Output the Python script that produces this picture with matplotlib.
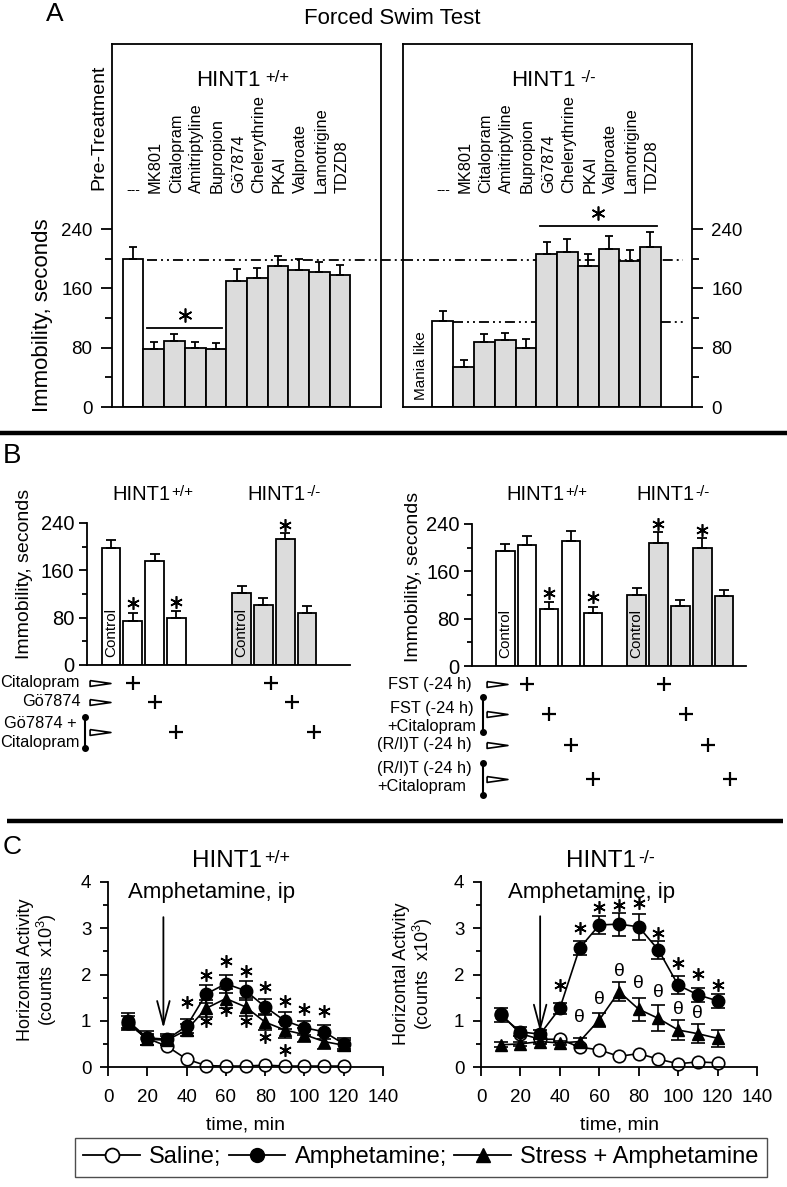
import numpy as np
import matplotlib
matplotlib.use('Agg')
import matplotlib.pyplot as plt
import matplotlib.transforms as mtransforms
from matplotlib.lines import Line2D

plt.rcParams['font.family'] = ['Liberation Sans', 'DejaVu Sans']
plt.rcParams['mathtext.default'] = 'regular'
plt.rcParams['axes.linewidth'] = 1.3
plt.rcParams['lines.scale_dashes'] = False

# ---- A: forced swim test
drugs = ['---', 'MK801', 'Citalopram', 'Amitriptyline', 'Bupropion', 'Gö7874',
         'Chelerythrine', 'PKAI', 'Valproate', 'Lamotrigine', 'TDZD8']
a_wt = [200, 78, 89, 79, 78, 170, 174, 190, 185, 182, 178]
a_wt_err = [16, 10, 9, 8, 8, 16, 14, 13, 15, 14, 14]
a_ko = [116, 54, 87, 90, 80, 206, 209, 190, 213, 197, 216]
a_ko_err = [13, 9, 11, 10, 12, 16, 17, 16, 18, 15, 20]
a_wt_sig = (1, 4, 106)    # first bar, last bar, height of the * line
a_ko_sig = (5, 10, 244)

# ---- B: left, drug combinations
b1_wt = [198, 75, 175, 79]
b1_wt_err = [14, 13, 12, 12]
b1_ko = [121, 102, 213, 88]
b1_ko_err = [13, 12, 10, 12]
b1_wt_star = [1, 3]
b1_ko_star = [2]
b1_rows = ['Citalopram', 'Gö7874', 'Gö7874 +\nCitalopram']

# ---- B: right, prior stress
b2_wt = [195, 204, 97, 211, 89]
b2_wt_err = [12, 16, 11, 18, 11]
b2_ko = [120, 208, 101, 199, 118]
b2_ko_err = [11, 19, 11, 18, 11]
b2_wt_star = [2, 4]
b2_ko_star = [1, 3]
b2_rows = ['FST (-24 h)', 'FST (-24 h)\n+Citalopram', '(R/I)T (-24 h)',
           '(R/I)T (-24 h)\n+Citalopram']

# ---- C: horizontal activity (counts x10^3)
t_min = [10, 20, 30, 40, 50, 60, 70, 80, 90, 100, 110, 120]
wt_sal = [0.95, 0.62, 0.45, 0.17, 0.03, 0.02, 0.02, 0.04, 0.02, 0.02, 0.02, 0.02]
wt_amp = [1.0, 0.63, 0.6, 0.88, 1.58, 1.8, 1.65, 1.3, 1.0, 0.85, 0.76, 0.5]
wt_amp_err = [0.16, 0.15, 0.12, 0.15, 0.2, 0.2, 0.2, 0.18, 0.18, 0.15, 0.15, 0.12]
wt_str = [0.95, 0.6, 0.58, 0.8, 1.27, 1.48, 1.3, 0.97, 0.8, 0.7, 0.55, 0.47]
wt_str_err = [0.15, 0.12, 0.1, 0.12, 0.18, 0.2, 0.2, 0.18, 0.18, 0.15, 0.15, 0.12]
wt_star_amp_t = [40, 50, 60, 70, 80, 90, 100, 110]
wt_star_amp_y = [1.41, 2.0, 2.3, 2.07, 1.72, 1.43, 1.25, 1.21]
wt_star_str_t = [50, 60, 70, 80, 90]
wt_star_str_y = [1.0, 1.23, 1.0, 0.64, 0.37]

ko_sal = [1.15, 0.72, 0.6, 0.6, 0.43, 0.37, 0.23, 0.29, 0.17, 0.07, 0.11, 0.09]
ko_amp = [1.12, 0.76, 0.71, 1.27, 2.57, 3.07, 3.09, 3.03, 2.53, 1.77, 1.56, 1.43]
ko_amp_err = [0.15, 0.1, 0.1, 0.12, 0.15, 0.2, 0.25, 0.28, 0.2, 0.2, 0.15, 0.15]
ko_str = [0.48, 0.5, 0.55, 0.52, 0.55, 1.02, 1.63, 1.25, 1.05, 0.8, 0.72, 0.62]
ko_str_err = [0.05, 0.05, 0.05, 0.05, 0.08, 0.15, 0.2, 0.25, 0.28, 0.22, 0.2, 0.18]
ko_star_amp_t = [40, 50, 60, 70, 80, 90, 100, 110, 120]
ko_star_amp_y = [1.77, 3.0, 3.46, 3.51, 3.55, 2.9, 2.24, 2.02, 1.77]
ko_theta_t = [50, 60, 70, 80, 90, 100, 110]
ko_theta_y = [1.06, 1.47, 2.07, 1.81, 1.61, 1.25, 1.15]

W, H = 787, 1187
fig = plt.figure(figsize=(W / 100, H / 100), dpi=100)


def rect(x0, y0, x1, y1):
    return [x0 / W, 1 - y1 / H, (x1 - x0) / W, (y1 - y0) / H]


# overlay in pixel coordinates for labels, rules and the treatment table
ov = fig.add_axes([0, 0, 1, 1])
ov.set_xlim(0, W)
ov.set_ylim(H, 0)
ov.axis('off')
ov.set_zorder(10)

STAR = (6, 2, 0)
GRAY = '#dcdcdc'


def star(ax, x, y, ms=9):
    ax.plot(x, y, ls='none', marker=STAR, ms=ms, mec='k', mew=1.2, clip_on=False)


def hint(x, y, sup, size, sup_size, gap=1.0):
    t = ov.text(x, y, 'HINT1', fontsize=size, ha='center', va='baseline')
    ov.annotate(sup, xy=(1, 1), xycoords=t, xytext=(gap, 0),
                textcoords='offset points', ha='left', va='top',
                fontsize=sup_size)


def yticks(ax, major, minor, size, length=8, pad=5):
    ax.set_yticks(major)
    ax.set_yticks(minor, minor=True)
    ax.tick_params(axis='y', which='major', direction='out', length=length,
                   width=1.3, labelsize=size, pad=pad)
    ax.tick_params(axis='y', which='minor', direction='out', length=length * 0.6,
                   width=1.3)


# ================= A
ytop = 240 * 363 / 178
ax_a1 = fig.add_axes(rect(112, 44, 381, 407))
ax_a2 = fig.add_axes(rect(403, 44, 692, 407))
for ax, mean, err, xl in [(ax_a1, a_wt, a_wt_err, (-1.02, 11.98)),
                          (ax_a2, a_ko, a_ko_err, (-1.92, 12.0))]:
    x = np.arange(len(mean))
    ax.bar(x, mean, width=1.0, color=['white'] + [GRAY] * (len(mean) - 1),
           edgecolor='k', linewidth=1.3,
           yerr=[np.zeros(len(err)), err], capsize=2.6,
           error_kw=dict(ecolor='k', elinewidth=1.3, capthick=1.3))
    ax.set_xlim(*xl)
    ax.set_ylim(0, ytop)
    ax.set_xticks([])
    yticks(ax, [0, 80, 160, 240], [40, 120, 200], 13.5, length=8, pad=6)
    ax.text(0, 292, '---', ha='center', va='center', fontsize=10)
    for i, name in enumerate(drugs[1:], 1):
        ax.text(i + 0.08, 288, name, rotation=90, ha='center', va='bottom',
                fontsize=11.8)

ax_a2.yaxis.tick_right()
ax_a2.tick_params(axis='y', which='both', left=False, right=True)

for ax, sig in [(ax_a1, a_wt_sig), (ax_a2, a_ko_sig)]:
    x0, x1 = sig[0] - 0.33, sig[1] + 0.3
    ax.plot([x0, x1], [sig[2], sig[2]], 'k-', lw=1.3)
    star(ax, (x0 + x1) / 2, sig[2] + 18, ms=10)

ax_a2.text(-1.03, 9, 'Mania like', rotation=90, ha='center', va='bottom',
           fontsize=11)

# reference levels: pre-treatment immobility of each genotype
dashdotdot = (7.2, 2.9, 1.4, 2.9, 1.4, 2.9)
ax_a1.plot([0.67, 13.1], [a_wt[0] - 2] * 2, color='k', lw=1.3,
           dashes=dashdotdot, clip_on=False, zorder=0.5)
ax_a2.plot([-1.92, 11.58], [a_wt[0] - 2] * 2, color='k', lw=1.3,
           dashes=dashdotdot, zorder=0.5)
ax_a2.plot([0.5, 11.67], [a_ko[0] - 2] * 2, color='k', lw=1.3,
           dashes=dashdotdot, zorder=0.5)

hint(228.5, 86, '+/+', 16, 12, gap=3)
hint(543.8, 86, '-/-', 16, 12, gap=3)
ov.text(55, 14, 'A', fontsize=19, ha='center', va='center')
ov.text(392, 18, 'Forced Swim Test', fontsize=16, ha='center', va='center')
ov.text(99, 190, 'Pre-Treatment', rotation=90, ha='center', va='bottom',
        fontsize=14)
ov.text(43, 315, 'Immobility, seconds', rotation=90, ha='center', va='center',
        fontsize=16)

# rules between panels
ov.plot([0, 787], [433, 433], 'k-', lw=3.2, solid_capstyle='butt')
ov.plot([7, 783], [820.5, 820.5], 'k-', lw=3.2, solid_capstyle='butt')

# ================= B
ax_b1 = fig.add_axes(rect(87, 523, 350, 665))
ax_b2 = fig.add_axes(rect(472, 524, 746, 666))


def panel_b(ax, wt, wt_err, ko, ko_err, wt_star, ko_star, xl):
    n = len(wt)
    xw = np.arange(n)
    xk = xw + 6
    ax.bar(xw, wt, width=0.85, color='white', edgecolor='k', linewidth=1.3,
           yerr=[np.zeros(n), wt_err], capsize=3.4,
           error_kw=dict(ecolor='k', elinewidth=1.3, capthick=1.3))
    ax.bar(xk, ko, width=0.85, color=GRAY, edgecolor='k', linewidth=1.3,
           yerr=[np.zeros(n), ko_err], capsize=3.4,
           error_kw=dict(ecolor='k', elinewidth=1.3, capthick=1.3))
    for i in wt_star:
        star(ax, xw[i], wt[i] + wt_err[i] + 16)
    for i in ko_star:
        star(ax, xk[i], ko[i] + ko_err[i] + 13)
    for xc in (xw[0], xk[0]):
        ax.text(xc, 14, 'Control', rotation=90, ha='center', va='bottom',
                fontsize=11)
    ax.set_xlim(*xl)
    ax.set_ylim(0, 240)
    ax.set_xticks([])
    for s in ('top', 'right'):
        ax.spines[s].set_visible(False)
    yticks(ax, [0, 80, 160, 240], [40, 120, 200], 14.5, length=6, pad=3)
    return xw, xk


b1_xw, b1_xk = panel_b(ax_b1, b1_wt, b1_wt_err, b1_ko, b1_ko_err,
                       b1_wt_star, b1_ko_star, (-1.1, 10.97))
b2_xw, b2_xk = panel_b(ax_b2, b2_wt, b2_wt_err, b2_ko, b2_ko_err,
                       b2_wt_star, b2_ko_star, (-1.52, 11.0))

hint(141, 500, '+/+', 14.5, 11)
hint(276, 500, '-/-', 14.5, 11)
hint(535, 500, '+/+', 14.5, 11)
hint(665, 500, '-/-', 14.5, 11)

ov.text(12, 456, 'B', fontsize=20, ha='center', va='center')
ov.text(25, 574, 'Immobility, seconds', rotation=90, ha='center', va='center',
        fontsize=14)
ov.text(414, 577, 'Immobility, seconds', rotation=90, ha='center', va='center',
        fontsize=14)

WEDGE = [(-1, 0.28), (1, 0), (-1, -0.28), (-1, 0.28)]


def treatment_rows(ax, xw, xk, labels, rows_y, text_pos, aligns, tri_x,
                   brackets, ko_shift):
    tr = mtransforms.blended_transform_factory(ax.transData, ov.transData)
    for k, (lab, y) in enumerate(zip(labels, rows_y)):
        tx, ty = text_pos[k]
        ov.text(tx, ty, lab, ha=aligns[k], va='center', multialignment=aligns[k],
                fontsize=11.8, linespacing=1.25)
        ov.plot(tri_x, y, marker=WEDGE, ms=15, mfc='white', mec='k', mew=1.2)
        ov.plot([xw[k + 1], xk[k + 1] + ko_shift], [y, y], ls='none',
                marker='+', ms=10, mew=1.6, color='k', transform=tr,
                clip_on=False)
    for bx, y0, y1 in brackets:
        ov.plot([bx, bx], [y0, y1], 'k-', lw=1.5)
        ov.plot([bx, bx], [y0, y1], 'ko', ms=4)


treatment_rows(ax_b1, b1_xw, b1_xk, b1_rows, [683, 702, 732],
               [(80, 683), (81, 702), (40, 733)], ['right', 'right', 'center'],
               99.5, [(85, 717, 748)], 0.33)
treatment_rows(ax_b2, b2_xw, b2_xk, b2_rows, [684, 714, 745, 779],
               [(472, 684), (431.5, 717), (472, 744), (377, 777.5)],
               ['right', 'center', 'right', 'left'], 497,
               [(483, 697, 732), (483, 763, 795)], 0.25)

# ================= C
ax_c1 = fig.add_axes(rect(108, 882, 383, 1067))
ax_c2 = fig.add_axes(rect(481, 882, 757, 1067))


def panel_c(ax, sal, amp, amp_err, strs, str_err):
    ax.plot(t_min, sal, '-', color='k', lw=1.2, zorder=2)
    ax.plot(t_min, sal, 'o', ms=9, mfc='white', mec='k', mew=1.2, zorder=2,
            clip_on=False)
    ax.errorbar(t_min, strs, yerr=str_err, fmt='-^', color='k', ms=9, lw=1.2,
                elinewidth=1.2, capsize=4.8, capthick=1.2, zorder=3)
    ax.errorbar(t_min, amp, yerr=amp_err, fmt='-o', color='k', ms=9, lw=1.2,
                elinewidth=1.2, capsize=4.8, capthick=1.2, zorder=4)
    ax.set_xlim(0, 140)
    ax.set_ylim(0, 4)
    for s in ('top', 'right'):
        ax.spines[s].set_visible(False)
    ax.set_xticks(np.arange(0, 141, 20))
    ax.tick_params(axis='x', direction='out', length=6.5, width=1.3,
                   labelsize=13.5, pad=9)
    yticks(ax, [0, 1, 2, 3, 4], [0.5, 1.5, 2.5, 3.5], 13.5, length=6, pad=6)
    ax.text(0.5, -0.314, 'time, min', transform=ax.transAxes, ha='center',
            va='center', fontsize=14)


panel_c(ax_c1, wt_sal, wt_amp, wt_amp_err, wt_str, wt_str_err)
panel_c(ax_c2, ko_sal, ko_amp, ko_amp_err, ko_str, ko_str_err)

for x, y in zip(wt_star_amp_t, wt_star_amp_y):
    star(ax_c1, x, y, ms=9)
for x, y in zip(wt_star_str_t, wt_star_str_y):
    star(ax_c1, x, y, ms=9)
for x, y in zip(ko_star_amp_t, ko_star_amp_y):
    star(ax_c2, x, y, ms=9)
for x, y in zip(ko_theta_t, ko_theta_y):
    ax_c2.text(x, y, 'θ', ha='center', va='center', fontsize=14)

arrow = dict(arrowstyle='->,head_length=1.7,head_width=0.45', lw=1.3,
             color='k', shrinkA=0, shrinkB=0)
ax_c1.annotate('', xy=(28.2, 0.84), xytext=(28.2, 3.24), arrowprops=arrow)
ax_c2.annotate('', xy=(30, 0.76), xytext=(30, 3.26), arrowprops=arrow)

ov.text(12.5, 847, 'C', fontsize=19, ha='center', va='center')
hint(227.5, 866.7, '+/+', 17.5, 13)
hint(601.5, 866.7, '-/-', 17.5, 13)
ov.text(212, 898, 'Amphetamine, ip', ha='center', va='baseline', fontsize=16)
ov.text(592, 898, 'Amphetamine, ip', ha='center', va='baseline', fontsize=16)
for x, y in [(38, 970), (414, 974)]:
    ov.text(x, y, 'Horizontal Activity\n(counts  x10$^3$)', rotation=90,
            ha='center', va='center', multialignment='center', fontsize=13,
            linespacing=1.1)

handles = [
    Line2D([], [], color='k', lw=1.3, marker='o', ms=10, mfc='white', mec='k', mew=1.3),
    Line2D([], [], color='k', lw=1.3, marker='o', ms=10, mfc='k', mec='k'),
    Line2D([], [], color='k', lw=1.3, marker='^', ms=10, mfc='k', mec='k'),
]
leg = fig.legend(handles, ['Saline;', 'Amphetamine;', 'Stress + Amphetamine'],
                 loc='center', bbox_to_anchor=(421 / W, 1 - 1157.5 / H), ncol=3,
                 frameon=True, fancybox=False, edgecolor='0.3', framealpha=1,
                 fontsize=17, handlelength=2.4, handletextpad=0.4,
                 columnspacing=0.3, borderpad=0.35)
leg.get_frame().set_linewidth(1.0)

fig.savefig('out.png', dpi=100)
